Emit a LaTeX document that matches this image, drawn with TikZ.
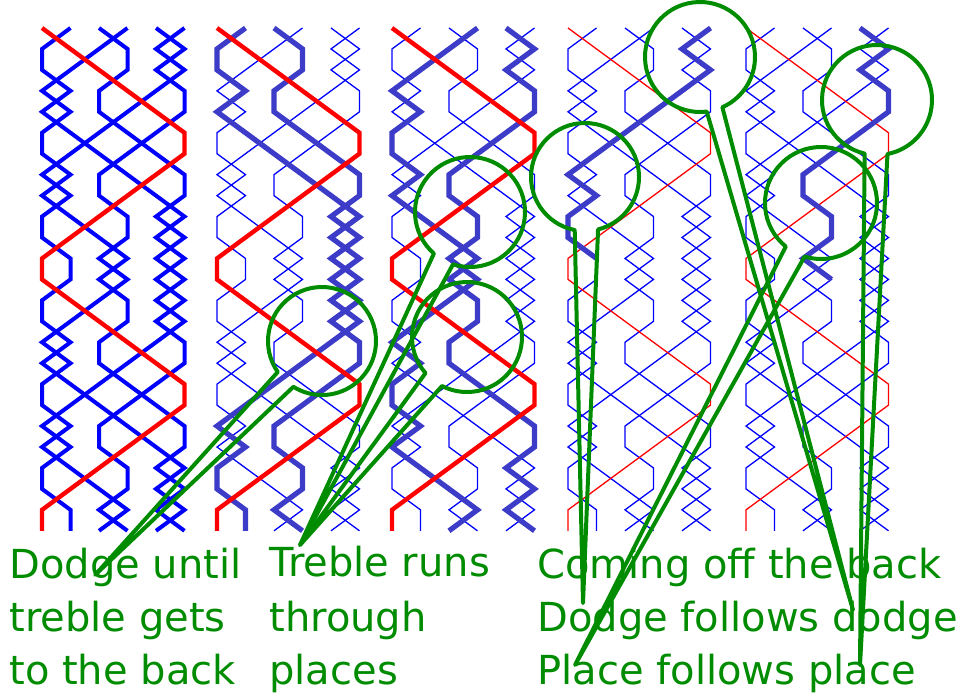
\documentclass[tikz,border=0pt]{standalone}
\usepackage{fontspec}
\setmainfont{DejaVu Sans}
\definecolor{workblue}{RGB}{60,60,200}
\definecolor{lensgreen}{RGB}{0,140,0}
% place of each bell in rows 0 to 24
\def\seqA{{1,2,3,4,5,6,6,5,4,3,2,1,1,2,3,4,5,6,6,5,4,3,2,1,1}}
\def\seqB{{2,1,1,2,1,2,3,4,5,6,5,6,5,6,5,6,6,5,4,3,3,4,4,3,4}}
\def\seqC{{3,4,4,3,3,4,5,6,6,5,6,5,6,5,6,5,4,3,2,1,2,1,1,2,2}}
\def\seqD{{4,3,2,1,2,1,1,2,1,2,3,4,3,4,4,3,3,4,5,6,6,5,6,5,6}}
\def\seqE{{5,6,5,6,6,5,4,3,3,4,4,3,4,3,2,1,2,1,1,2,1,2,3,4,3}}
\def\seqF{{6,5,6,5,4,3,2,1,2,1,1,2,2,1,1,2,1,2,3,4,5,6,5,6,5}}
\newcommand\ringline[3]{\draw[#1] plot[samples at={0,...,#3}] ({#2[\x]},-\x);}
% lens with a pointer: centre, radius, gap from, gap to (+360), tip
\newcommand\lens[6]{\draw[lens] (#1) ++(#4:#2) arc[start angle=#4, end angle=#5, radius=#2] -- (#6) -- cycle;}
\begin{document}
\begin{tikzpicture}[x=0.5pt, y=0.5pt,
    boldbell/.style={blue, line width=2pt},
    thinbell/.style={blue, line width=0.65pt},
    workbell/.style={workblue, line width=2.6pt},
    boldtreble/.style={red, line width=2.2pt},
    thintreble/.style={red, line width=0.65pt},
    lens/.style={lensgreen, line width=2pt, line join=round},
    caption/.style={lensgreen, font=\fontsize{20}{24}\selectfont, anchor=base west, inner sep=0pt},
    panel/.style={yshift=-14pt, x=14.25pt, y=10.475pt}]
  \useasboundingbox (0,0) rectangle (968,-697);

  % all bells
  \begin{scope}[xshift=6.75pt, panel]
    \foreach \b in {\seqB,\seqC,\seqD,\seqE,\seqF} {\ringline{boldbell}{\b}{24}}
    \ringline{boldtreble}{\seqA}{24}
  \end{scope}
  % 2 and 3
  \begin{scope}[xshift=94.25pt, panel]
    \foreach \b in {\seqD,\seqE,\seqF} {\ringline{thinbell}{\b}{24}}
    \foreach \b in {\seqB,\seqC} {\ringline{workbell}{\b}{24}}
    \ringline{boldtreble}{\seqA}{24}
  \end{scope}
  % 4 and 5
  \begin{scope}[xshift=181.75pt, panel]
    \foreach \b in {\seqB,\seqC,\seqF} {\ringline{thinbell}{\b}{24}}
    \foreach \b in {\seqD,\seqE} {\ringline{workbell}{\b}{24}}
    \ringline{boldtreble}{\seqA}{24}
  \end{scope}
  % 6 for one lead
  \begin{scope}[xshift=269.75pt, panel]
    \foreach \b in {\seqB,\seqC,\seqD,\seqE,\seqF} {\ringline{thinbell}{\b}{24}}
    \ringline{thintreble}{\seqA}{24}
    \ringline{workbell}{\seqF}{11}
  \end{scope}
  % 5 for one lead
  \begin{scope}[xshift=358.75pt, panel]
    \foreach \b in {\seqB,\seqC,\seqD,\seqE,\seqF} {\ringline{thinbell}{\b}{24}}
    \ringline{thintreble}{\seqA}{24}
    \ringline{workbell}{\seqE}{12}
  \end{scope}

  \node[caption] (dodgeA) at (9,-578) {Dodge until};
  \node[caption] (dodgeB) at (9,-631) {treble gets};
  \node[caption] (dodgeC) at (9,-684) {to the back};
  \node[caption] (runsA) at (269,-576) {Treble runs};
  \node[caption] (runsB) at (269,-631) {through};
  \node[caption] (runsC) at (269,-684) {places};
  \node[caption] (backA) at (537,-578) {Coming off the back};
  \node[caption] (backB) at (537,-631) {Dodge follows dodge};
  \node[caption] (backC) at (537,-684) {Place follows place};

  \coordinate (lensback) at (322,-341);
  \coordinate (lensrunsA) at (470,-212);
  \coordinate (lensrunsB) at (467,-337);
  \coordinate (lensdodgeA) at (585,-177);
  \coordinate (lensdodgeB) at (700,-57);
  \coordinate (lensplaceA) at (877,-100);
  \coordinate (lensplaceB) at (821,-203);
  \coordinate (tipback) at (95,-575);
  \coordinate (tipruns) at (300,-545);
  \coordinate (tipdodgeA) at (583,-603);
  \coordinate (tipdodgeB) at (853,-610);
  \coordinate (tipplaceA) at (860,-665);
  \coordinate (tipplaceB) at (575,-665);

  \lens{lensback}{27pt}{238}{575}{238}{tipback}
  \lens{lensrunsA}{27.5pt}{252}{589}{252}{tipruns}
  \lens{lensrunsB}{27.5pt}{243}{581}{243}{tipruns}
  \lens{lensdodgeA}{27pt}{284}{619}{284}{tipdodgeA}
  \lens{lensdodgeB}{27.5pt}{294}{637}{294}{tipdodgeB}
  \lens{lensplaceA}{27.5pt}{281}{617}{281}{tipplaceA}
  \lens{lensplaceB}{28pt}{253}{591}{253}{tipplaceB}
\end{tikzpicture}
\end{document}
